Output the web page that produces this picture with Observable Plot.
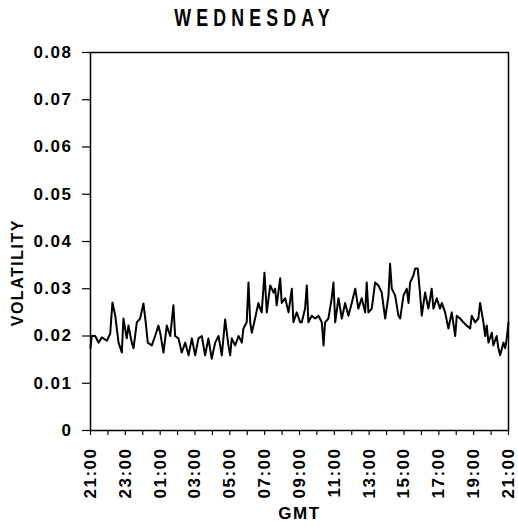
<!DOCTYPE html>
<html>
<head>
<meta charset="utf-8">
<script src="https://cdn.jsdelivr.net/npm/d3@7"></script>
<script src="https://cdn.jsdelivr.net/npm/@observablehq/plot@0.6"></script>
<style>
  body { margin: 0; background: #fff; width: 518px; height: 527px; position: relative; overflow: hidden; }
  #title { position: absolute; left: 0; top: 5px; width: 510px; text-align: center;
    font-family: "Liberation Sans", Arial, sans-serif; font-weight: bold;
    font-size: 24px; line-height: 26px; letter-spacing: 7px; color: #000;
    transform: scaleX(0.74); transform-origin: 253px 0; }
  #chart { position: absolute; left: 0; top: 40px; }
</style>
</head>
<body>
<div id="title">WEDNESDAY</div>
<div id="chart"></div>
<script>
// hours after 21:00 GMT
const hours = [
  0,0.07,0.27,0.46,0.65,0.94,1.13,1.26,1.42,1.61,
  1.80,1.89,2.08,2.18,2.37,2.47,2.66,2.85,3.04,3.17,
  3.29,3.52,3.71,3.90,4.00,4.19,4.38,4.58,4.76,4.86,
  5.05,5.24,5.44,5.63,5.82,6.01,6.20,6.39,6.58,6.77,
  6.96,7.16,7.35,7.54,7.73,7.92,8.02,8.11,8.31,8.50,
  8.69,8.78,8.97,9.07,9.17,9.26,9.45,9.64,9.74,9.83,
  9.99,10.12,10.32,10.51,10.60,10.69,10.89,10.98,11.18,11.37,
  11.56,11.65,11.84,12.04,12.13,12.32,12.42,12.51,12.70,12.90,
  13.09,13.28,13.38,13.47,13.66,13.85,13.95,14.05,14.24,14.43,
  14.62,14.81,15.00,15.20,15.38,15.57,15.77,15.86,15.96,16.15,
  16.34,16.53,16.72,16.92,17.11,17.20,17.30,17.49,17.68,17.78,
  17.97,18.16,18.26,18.35,18.54,18.64,18.79,18.93,19.02,19.21,
  19.40,19.59,19.69,19.88,20.07,20.17,20.36,20.55,20.74,20.94,
  21.03,21.22,21.41,21.60,21.80,21.89,22.08,22.27,22.37,22.56,
  22.66,22.75,22.85,23.04,23.13,23.32,23.42,23.52,23.71,23.81,
  23.90,24.00
];
const volatility = [
  .0175,.020,.020,.0186,.0197,.019,.0205,.0271,.0243,.0186,
  .0165,.0237,.0195,.0222,.0186,.0174,.0229,.0237,.0269,.0229,
  .0186,.018,.020,.0222,.0207,.0165,.0222,.020,.0265,.020,
  .0195,.0165,.0186,.0159,.0195,.0159,.0195,.020,.0159,.0195,
  .0152,.0186,.020,.0159,.0235,.018,.0159,.0195,.018,.020,
  .0186,.0216,.0229,.0313,.0229,.0207,.0237,.027,.0258,.025,
  .0334,.025,.0307,.0292,.030,.0265,.0322,.027,.028,.025,
  .030,.0229,.025,.0229,.0229,.0258,.0307,.0229,.0243,.0237,
  .0243,.0229,.018,.0229,.0237,.028,.0313,.0229,.028,.0237,
  .027,.0243,.027,.030,.0258,.028,.025,.0313,.025,.0258,
  .0313,.0307,.0292,.0237,.0286,.0353,.030,.0286,.0243,.0237,
  .0286,.030,.027,.0313,.0328,.0343,.0343,.0286,.0243,.0292,
  .0258,.030,.0258,.028,.0258,.027,.025,.0216,.025,.020,
  .0243,.0237,.0229,.0222,.0216,.0243,.0229,.0237,.027,.0229,
  .020,.0222,.0186,.0207,.018,.020,.0174,.0159,.0186,.0174,
  .0195,.0229
];
const yTicks = [0, 0.01, 0.02, 0.03, 0.04, 0.05, 0.06, 0.07, 0.08];
const yTickLabels = ["0", "0.01", "0.02", "0.03", "0.04", "0.05", "0.06", "0.07", "0.08"];
const xTicks = d3.range(0, 25);
const xTickLabels = ["21:00","23:00","01:00","03:00","05:00","07:00","09:00","11:00","13:00","15:00","17:00","19:00","21:00"];
const yLabel = "VOLATILITY";
const xLabel = "GMT";

const data = hours.map((h, i) => ({h, v: volatility[i]}));

const chart = Plot.plot({
  width: 518,
  height: 487,
  marginTop: 12,
  marginBottom: 97,
  marginLeft: 90,
  marginRight: 10,
  style: {
    fontFamily: '"Liberation Sans", Arial, sans-serif',
    fontSize: "17px",
    fontWeight: "bold",
    letterSpacing: "1.5px",
    color: "#000",
    background: "#fff"
  },
  x: {domain: [0, 24]},
  y: {domain: [0, 0.08]},
  marks: [
    Plot.frame({stroke: "#000", strokeWidth: 1.5}),
    Plot.axisY({
      ticks: yTicks, tickSize: 8, tickPadding: 10,
      tickFormat: d => yTickLabels[yTicks.indexOf(d)],
      label: null,
      stroke: "#000", strokeWidth: 1.2
    }),
    Plot.axisX({
      ticks: xTicks, tickSize: 5, tickPadding: 12, tickRotate: -90,
      tickFormat: d => d % 2 === 0 ? xTickLabels[d / 2] : "",
      label: xLabel, labelAnchor: "center", labelArrow: "none", labelOffset: 88,
      stroke: "#000", strokeWidth: 1.2
    }),
    Plot.text([yLabel], {
      x: 0, y: 0.0334, dx: -73, rotate: -90, text: d => d,
      fontSize: 16, fontWeight: "bold", fill: "#000", textAnchor: "middle"
    }),
    Plot.line(data, {x: "h", y: "v", stroke: "#000", strokeWidth: 2})
  ]
});
document.getElementById("chart").appendChild(chart);
</script>
</body>
</html>
